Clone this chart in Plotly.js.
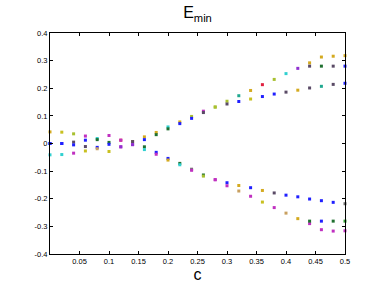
<!DOCTYPE html>
<html>
<head>
<meta charset="utf-8">
<script src="https://cdn.plot.ly/plotly-3.0.1.min.js"></script>
<style>html,body{margin:0;padding:0;background:#fff;}#chart{width:382px;height:287px;}</style>
</head>
<body>
<div id="chart"></div>
<script>
var cValues = [0,0.02,0.04,0.06,0.08,0.10,0.12,0.14,0.16,0.18,0.20,0.22,0.24,0.26,0.28,0.30,0.32,0.34,0.36,0.38,0.40,0.42,0.44,0.46,0.48,0.50];

var upperOuter = [0.042,0.041,0.035,0.027,0.018,0.029,0.012,0.007,0.024,0.040,0.060,0.078,0.098,0.117,0.132,0.153,0.173,0.192,0.213,0.232,0.253,0.272,0.292,0.313,0.316,0.318];
var upperInner = [0.000,0.000,0.005,0.012,0.014,0.004,0.012,0.007,0.014,0.032,0.053,0.072,0.091,0.112,0.132,0.143,0.152,0.161,0.170,0.179,0.186,0.193,0.201,0.207,0.214,0.218];
var upperMiddle = [null,null,null,null,null,null,null,null,null,null,null,null,null,null,null,null,null,null,null,null,null,null,0.280,0.280,0.280,0.280];
var lowerInner = [0.000,0.000,-0.005,-0.011,-0.014,-0.003,-0.012,-0.004,-0.012,-0.032,-0.054,-0.072,-0.093,-0.114,-0.131,-0.142,-0.152,-0.160,-0.170,-0.179,-0.187,-0.193,-0.201,-0.207,-0.213,-0.218];
var lowerOuter = [-0.041,-0.040,-0.035,-0.027,-0.019,-0.029,-0.012,-0.004,-0.022,-0.039,-0.060,-0.077,-0.097,-0.118,-0.131,-0.153,-0.172,-0.191,-0.212,-0.232,-0.252,-0.272,-0.290,-0.312,-0.317,-0.316];
var lowerMiddle = [null,null,null,null,null,null,null,null,null,null,null,null,null,null,null,null,null,null,null,null,null,null,-0.281,-0.281,-0.281,-0.281];

var xTicks = [0.05,0.1,0.15,0.2,0.25,0.3,0.35,0.4,0.45,0.5];
var xTickText = ['0.05','0.1','0.15','0.2','0.25','0.3','0.35','0.4','0.45','0.5'];
var yTicks = [-0.4,-0.3,-0.2,-0.1,0,0.1,0.2,0.3,0.4];
var yTickText = ['-0.4','-0.3','-0.2','-0.1','0','0.1','0.2','0.3','0.4'];

// per-point colours (style)
var G='#d4aa20', B='#2020ff', M='#c030c0', T='#20a890', C='#30d0d0', D='#5a4a66', DG='#207030', YG='#a8c030', R='#e02040', P='#9030d0', TN='#c8a060', Y='#c8c020', GR='#707070';
var colUpperOuter = [G,Y,YG,M,C,M,R,G,G,G,C,G,YG,M,YG,YG,T,G,R,YG,C,P,G,G,G,G];
var colUpperInner = [B,B,D,B,DG,DG,M,D,B,DG,DG,B,B,D,YG,D,B,Y,B,B,D,G,D,T,D,B];
var colUpperMiddle = [G,G,G,G,G,G,G,G,G,G,G,G,G,G,G,G,G,G,G,G,G,G,D,DG,D,B];
var colLowerInner = [B,B,B,D,B,B,M,P,DG,B,B,DG,GR,DG,M,B,G,B,G,D,B,B,B,B,B,GR];
var colLowerOuter = [C,C,M,Y,TN,Y,P,P,C,M,G,C,M,YG,M,M,TN,M,Y,M,TN,G,M,M,M,M];
var colLowerMiddle = [G,G,G,G,G,G,G,G,G,G,G,G,G,G,G,G,G,G,G,G,G,G,DG,B,DG,'#30a030'];

function tr(y, cols){
  return {x: cValues, y: y, type: 'scatter', mode: 'markers', cliponaxis: false,
    marker: {symbol: 'square', size: 3, color: cols, line: {width: 0}}, hoverinfo: 'skip'};
}
var data = [
  tr(upperOuter, colUpperOuter), tr(upperInner, colUpperInner), tr(upperMiddle, colUpperMiddle),
  tr(lowerInner, colLowerInner), tr(lowerOuter, colLowerOuter), tr(lowerMiddle, colLowerMiddle)
];

var axisCommon = {showgrid: false, zeroline: false, showline: true, linecolor: '#000', linewidth: 1,
  mirror: 'ticks', ticks: 'inside', ticklen: 3, tickwidth: 1, tickcolor: '#000',
  tickfont: {family: 'Liberation Sans, Arial, sans-serif', size: 7.5, color: '#000'}};

var layout = {
  width: 382, height: 287, showlegend: false,
  paper_bgcolor: '#fff', plot_bgcolor: '#fff',
  margin: {l: 50, r: 37, t: 33, b: 33},
  title: {text: 'E<sub>min</sub>', x: 0.5, xref: 'paper', xanchor: 'center', y: 0.975, yanchor: 'top',
    font: {family: 'Liberation Sans, Arial, sans-serif', size: 16, color: '#000'}},
  xaxis: Object.assign({}, axisCommon, {range: [0, 0.5], tickmode: 'array', tickvals: xTicks, ticktext: xTickText,
    title: {text: 'c', standoff: 3, font: {family: 'Liberation Sans, Arial, sans-serif', size: 16, color: '#000'}}}),
  yaxis: Object.assign({}, axisCommon, {range: [-0.4, 0.4], tickmode: 'array', tickvals: yTicks, ticktext: yTickText})
};

Plotly.newPlot('chart', data, layout, {staticPlot: true, displayModeBar: false});
</script>
</body>
</html>
